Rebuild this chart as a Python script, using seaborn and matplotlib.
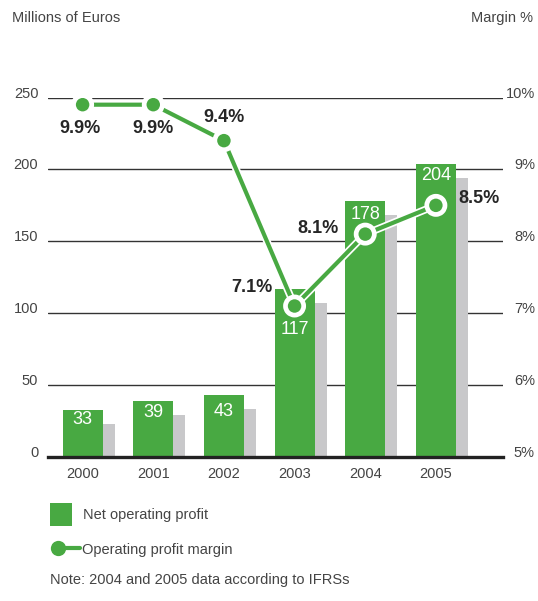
import matplotlib
matplotlib.use("Agg")
import matplotlib.pyplot as plt
import matplotlib.patheffects as pe
from matplotlib import font_manager
from matplotlib.transforms import ScaledTranslation
from matplotlib.patches import Rectangle
from matplotlib.lines import Line2D
import seaborn as sns

# Data
years = ["2000", "2001", "2002", "2003", "2004", "2005"]
net_operating_profit = [33, 39, 43, 117, 178, 204]          # millions of euros
operating_margin = [9.9, 9.9, 9.4, 7.1, 8.1, 8.5]           # percent
left_ticks = [0, 50, 100, 150, 200, 250]
right_ticks = [5, 6, 7, 8, 9, 10]

GREEN = "#48a942"
SHADOW = "#c8c8ca"
TEXT = "#444444"
DARK = "#262626"
REGULAR = ["Liberation Sans", "DejaVu Sans"]

installed = {f.name for f in font_manager.fontManager.ttflist}
if "Liberation Sans Narrow" in installed:
    VALUE_FONT, VALUE_SIZE, BAR_SIZE = ["Liberation Sans Narrow"] + REGULAR, 15, 14
else:
    VALUE_FONT, VALUE_SIZE, BAR_SIZE = REGULAR, 13, 13

sns.set_theme(style="white")
plt.rcParams["font.family"] = REGULAR

W, H = 538, 601
fig = plt.figure(figsize=(W / 100, H / 100), dpi=100)
ax = fig.add_axes([48 / W, 1 - 457 / H, (503 - 48) / W, (457 - 97.5) / H])

bar_w = 0.566
# shadow bars, drawn first and nudged right/down
sns.barplot(x=years, y=net_operating_profit, color=SHADOW, saturation=1,
            width=bar_w, ax=ax, zorder=2, linewidth=0, edgecolor="none")
shadow_patches = list(ax.patches)
shift = ScaledTranslation(0.12, -0.14, fig.dpi_scale_trans)
for p in shadow_patches:
    p.set_transform(ax.transData + shift)
sns.barplot(x=years, y=net_operating_profit, color=GREEN, saturation=1,
            width=bar_w, ax=ax, zorder=3, linewidth=0, edgecolor="none")

ax.set_xlim(-0.49, 5.95)
ax.set_ylim(0, 250)
ax.set_xlabel("")
ax.set_ylabel("")
ax.set_yticks(left_ticks)
ax.set_yticklabels([str(t) for t in left_ticks])
ax.grid(axis="y", color="#333333", linewidth=1.0, zorder=1)
ax.set_axisbelow(True)
for s in ["top", "left", "right"]:
    ax.spines[s].set_visible(False)
ax.spines["bottom"].set_color("#222222")
ax.spines["bottom"].set_linewidth(2.4)
ax.spines["bottom"].set_zorder(5)
ax.tick_params(axis="both", length=0, labelsize=10.5, labelcolor=TEXT)
ax.tick_params(axis="x", pad=7)
ax.tick_params(axis="y", pad=7)
for lbl in ax.get_yticklabels():
    lbl.set_verticalalignment("baseline")

# value labels inside the bars (the 2003 one sits below the margin marker)
bar_label_drop = [-7.5, -8.5, -12, -29, -9.7, -8.6]
for i, (v, dy) in enumerate(zip(net_operating_profit, bar_label_drop)):
    ax.annotate(str(v), (i, v), xytext=(0, dy), textcoords="offset points",
                ha="center", va="center", color="white", fontsize=BAR_SIZE,
                family=VALUE_FONT, zorder=6)

# margin line on the secondary axis
ax2 = ax.twinx()
ax2.set_zorder(ax.get_zorder() + 1)
ax2.patch.set_visible(False)
idx = list(range(len(years)))
sns.lineplot(x=idx, y=operating_margin, ax=ax2, color=GREEN, linewidth=3,
             marker="o", markersize=11, markeredgecolor="white",
             markeredgewidth=1.3)
line = ax2.lines[0]
line.set_path_effects([pe.Stroke(linewidth=5.5, foreground="white"), pe.Normal()])

ax2.set_ylim(5, 10)
ax2.set_xlim(-0.49, 5.95)
ax2.set_ylabel("")
ax2.set_yticks(right_ticks)
ax2.set_yticklabels([f"{t}%" for t in right_ticks])
for s in ax2.spines.values():
    s.set_visible(False)
ax2.tick_params(axis="y", length=0, labelsize=10.5, labelcolor=TEXT, pad=23)
for lbl in ax2.get_yticklabels():
    lbl.set_horizontalalignment("right")
    lbl.set_verticalalignment("baseline")

# margin labels
offsets = [(-2, -17, "center"), (0, -17, "center"), (0, 17, "center"),
           (-16, 13, "right"), (-19, 4, "right"), (16, 5, "left")]
for i, (m, (dx, dy, ha)) in enumerate(zip(operating_margin, offsets)):
    ax2.annotate(f"{m}%", (i, m), xytext=(dx, dy), textcoords="offset points",
                 ha=ha, va="center", fontsize=VALUE_SIZE, fontweight="bold",
                 color=DARK, family=VALUE_FONT)

# headers
fig.text(12 / W, 1 - 18 / H, "Millions of Euros", fontsize=10.5, color=TEXT,
         ha="left", va="center")
fig.text(533 / W, 1 - 18 / H, "Margin %", fontsize=10.5, color=TEXT,
         ha="right", va="center")

# legend
fig.add_artist(Rectangle((50 / W, 1 - 526 / H), 22 / W, 23 / H,
                         transform=fig.transFigure, color=GREEN, lw=0))
fig.text(83 / W, 1 - 515 / H, "Net operating profit", fontsize=10.5,
         color=TEXT, ha="left", va="center")
fig.add_artist(Line2D([58 / W, 80 / W], [1 - 548 / H, 1 - 548 / H],
                      transform=fig.transFigure, color=GREEN, linewidth=3))
fig.add_artist(Line2D([58 / W], [1 - 548 / H], transform=fig.transFigure,
                      color=GREEN, marker="o", markersize=11,
                      markeredgewidth=0))
fig.text(82 / W, 1 - 550 / H, "Operating profit margin", fontsize=10.5,
         color=TEXT, ha="left", va="center")

fig.text(50 / W, 1 - 580 / H, "Note: 2004 and 2005 data according to IFRSs",
         fontsize=10.5, color=TEXT, ha="left", va="center")

fig.savefig("out.png", dpi=100)
